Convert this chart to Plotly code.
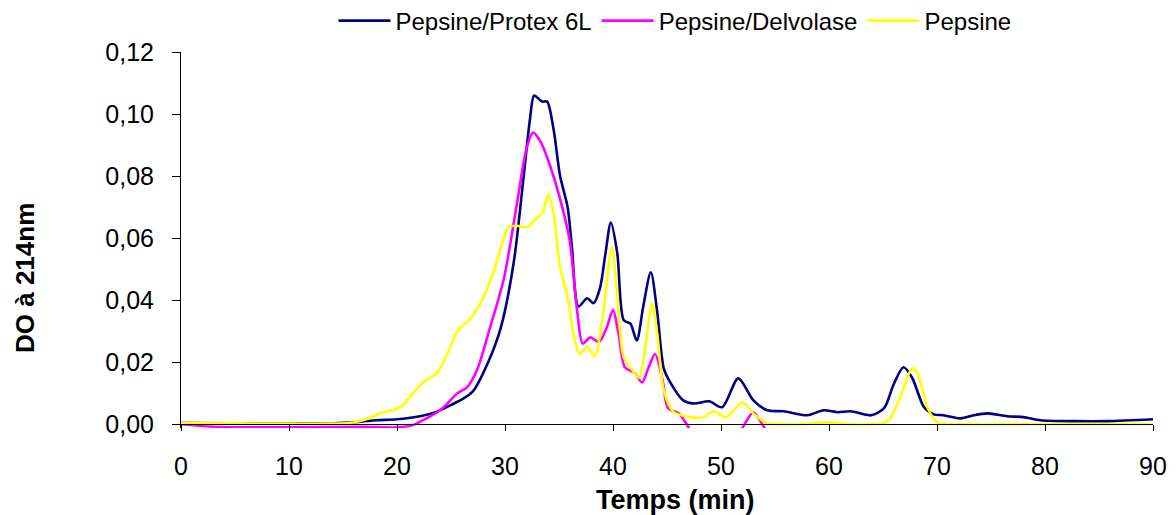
import plotly.graph_objects as go

# ---- data (time in min, absorbance DO at 214 nm) ----
t_protex = [0, 5, 10, 14, 16, 18, 20, 22, 23.5, 25, 26, 27, 28.4, 29.6, 30.8, 31.7, 32.3, 32.7,
            33.25, 33.5, 33.9, 34.5, 35.1, 35.8, 36.2, 36.8, 37.6, 38.2, 38.8, 39.3, 39.8, 40.4,
            41.0, 41.6, 42.2, 42.8, 43.5, 44.1, 44.7, 45.3, 46.5, 47.5, 48.9, 50.1, 51.6, 53.0,
            54.3, 55.8, 58.0, 59.5, 60.8, 62.0, 63.9, 65.1, 66.0, 66.9, 67.7, 68.8, 69.7, 70.6,
            72.2, 73.4, 74.7, 76.5, 78.0, 79.6, 82.7, 85.8, 90]
do_protex = [0.0004, 0.0003, 0.0002, 0.0003, 0.0006, 0.0013, 0.0016, 0.0025, 0.0038, 0.0062, 0.0080,
             0.0105, 0.0197, 0.031, 0.052, 0.079, 0.098, 0.106, 0.1045, 0.1040, 0.1040, 0.095, 0.080,
             0.070, 0.057, 0.038, 0.0406, 0.039, 0.044, 0.055, 0.065, 0.055, 0.0335, 0.0325, 0.027,
             0.038, 0.049, 0.036, 0.018, 0.0135, 0.0077, 0.0067, 0.0074, 0.0055, 0.0148, 0.0077,
             0.0045, 0.0042, 0.0029, 0.0045, 0.0039, 0.0042, 0.0029, 0.0052, 0.013, 0.0184, 0.015,
             0.0055, 0.0032, 0.0029, 0.0019, 0.0029, 0.0035, 0.0026, 0.0023, 0.0013, 0.0010, 0.0010,
             0.0016]

t_delvo = [0, 3, 10, 17, 20, 21.5, 22.4, 24.0, 25.6, 26.5, 27.4, 28.6, 29.9, 31.1, 32.0, 32.6, 33.3,
           34.2, 35.3, 36.0, 36.7, 37.2, 37.9, 38.7, 39.4, 40.0, 40.5, 41.1, 42.0, 42.7, 43.3, 43.9,
           44.6, 45.1, 46.1, 47.0, 47.6, 49.0, 50.5, 51.4, 52.1, 53.0, 54.0, 54.8, 57, 65, 75, 90]
do_delvo = [0.0, -0.0008, -0.0010, -0.0008, -0.0010, -0.0002, 0.0013, 0.0045, 0.010, 0.012, 0.0174,
            0.031, 0.047, 0.071, 0.089, 0.094, 0.091, 0.083, 0.070, 0.059, 0.036, 0.026, 0.028, 0.0265,
            0.031, 0.0368, 0.0294, 0.0184, 0.0165, 0.0135, 0.0184, 0.0226, 0.014, 0.0052, 0.0035,
            -0.0010, -0.0045, -0.006, -0.006, -0.0045, -0.0005, 0.0039, -0.0010, -0.0045, -0.006,
            -0.006, -0.006, -0.006]

t_pepsine = [0, 5, 10, 14, 16, 17.5, 18.4, 20.3, 21.5, 22.4, 23.7, 24.7, 25.6, 26.8, 28.0, 28.9,
             29.7, 30.3, 31.1, 32.0, 32.8, 33.5, 34.0, 34.5, 35.1, 35.8, 36.3, 36.9, 37.6, 38.3,
             39.0, 39.9, 40.4, 41.0, 41.8, 42.4, 43.0, 43.6, 44.1, 44.7, 45.6, 47.2, 48.4, 49.3,
             50.5, 52.0, 53.0, 54.3, 57, 59.8, 62, 65.0, 65.6, 66.6, 67.7, 68.2, 69.1, 70.0, 72,
             80, 90]
do_pepsine = [0.0003, 0.0003, 0.0002, 0.0002, 0.0006, 0.0020, 0.0035, 0.0055, 0.010, 0.0135, 0.0165,
              0.023, 0.030, 0.034, 0.041, 0.0487, 0.058, 0.0635, 0.064, 0.0635, 0.066, 0.0684, 0.074,
              0.068, 0.0506, 0.041, 0.030, 0.0226, 0.025, 0.022, 0.0335, 0.057, 0.041, 0.0216, 0.0174,
              0.015, 0.025, 0.039, 0.029, 0.011, 0.004, 0.0023, 0.0023, 0.0042, 0.0023, 0.0071, 0.0035,
              0.0003, 0.0, 0.0006, 0.0, 0.0003, 0.0015, 0.0087, 0.018, 0.0165, 0.0055, 0.0006, 0.0,
              0.0, 0.0]

series_names = ["Pepsine/Protex 6L", "Pepsine/Delvolase", "Pepsine"]
series_colors = ["#000080", "#FF00FF", "#FFFF00"]

x_ticks = [0, 10, 20, 30, 40, 50, 60, 70, 80, 90]
y_ticks = [0.0, 0.02, 0.04, 0.06, 0.08, 0.10, 0.12]

FONT = "Liberation Sans, Arial, sans-serif"

fig = go.Figure()
for name, color, xs, ys in zip(series_names, series_colors,
                               [t_protex, t_delvo, t_pepsine],
                               [do_protex, do_delvo, do_pepsine]):
    fig.add_trace(go.Scatter(x=xs, y=ys, mode="lines", name=name,
                             line=dict(color=color, width=2.6, shape="spline", smoothing=0.8)))

y_lo = -0.0012
y_hi = 0.12
fig.update_layout(
    width=1176, height=515,
    margin=dict(l=181, r=23, t=52, b=87, autoexpand=False),
    paper_bgcolor="white", plot_bgcolor="white",
    separators=", ",
    font=dict(family=FONT, size=25, color="black"),
    showlegend=True,
    legend=dict(orientation="h", xref="container", yref="container",
                x=675 / 1176, xanchor="center", y=1 - 21 / 515, yanchor="middle",
                font=dict(size=24, color="black"), itemwidth=52, bgcolor="rgba(0,0,0,0)"),
    xaxis=dict(range=[0, 90], tickvals=x_ticks, showgrid=False, zeroline=False,
               showline=True, linecolor="black", linewidth=1,
               ticks="outside", ticklen=6, tickcolor="black", ticklabelstandoff=14,
               anchor="free", position=(0 - y_lo) / (y_hi - y_lo),
               tickfont=dict(size=25)),
    yaxis=dict(range=[y_lo, y_hi], tickvals=y_ticks, tickformat=".2f", showgrid=False,
               zeroline=False, showline=True, linecolor="black", linewidth=1,
               ticks="outside", ticklen=8, tickcolor="black", ticklabelstandoff=13,
               tickfont=dict(size=25)),
    annotations=[
        dict(text="<b>DO à 214nm</b>", textangle=-90, xref="paper", yref="paper",
             x=(25 - 181) / 972, y=(428 - 278) / 376, xanchor="center", yanchor="middle",
             showarrow=False, font=dict(size=26, color="black")),
        dict(text="<b>Temps (min)</b>", xref="paper", yref="paper",
             x=(675 - 181) / 972, y=-(500 - 428) / 376, xanchor="center", yanchor="middle",
             showarrow=False, font=dict(size=27, color="black")),
    ],
)

fig.write_html("out.html")
